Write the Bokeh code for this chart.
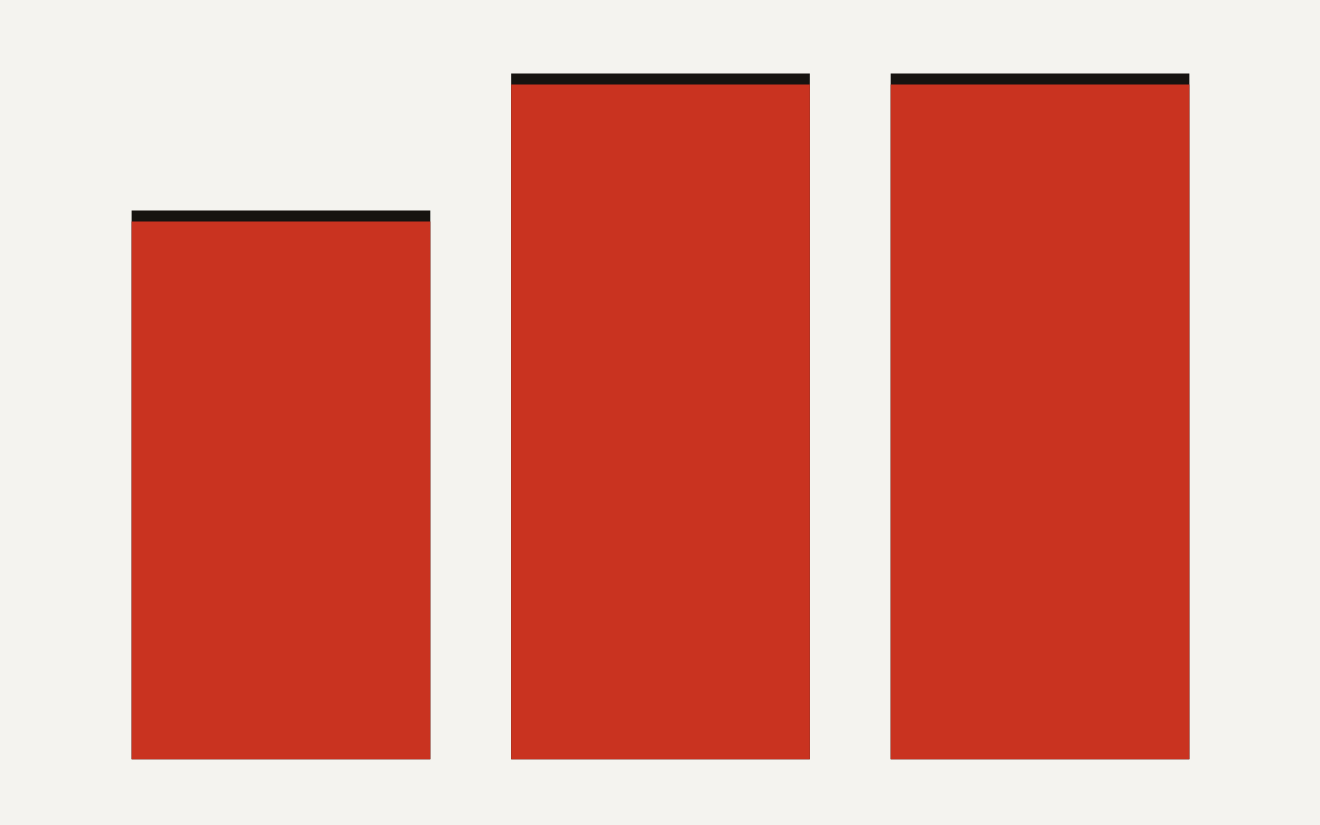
from bokeh.plotting import figure
from bokeh.models import Range1d, ColumnDataSource
from bokeh.embed import file_html
from bokeh.resources import INLINE

# Data
categories = ["A", "B", "C"]
positions = [1, 2, 3]
values = [80, 100, 100]

BG = "#f4f3ef"
RED = "#c93320"
BLACK = "#161310"
CAP = 1.6  # thickness of the dark cap, in data units

src = ColumnDataSource(dict(
    x=positions,
    top=values,
    red_top=[v - CAP for v in values],
    cat=categories,
))

p = figure(width=1320, height=825, output_backend="svg", toolbar_location=None,
           x_range=Range1d(0.261, 3.739), y_range=Range1d(-9.67, 110.64),
           min_border=0, min_border_left=0, min_border_right=0,
           min_border_top=0, min_border_bottom=0)
p.axis.visible = False
p.grid.visible = False
p.outline_line_color = None
p.background_fill_color = BG
p.border_fill_color = BG

p.vbar(x="x", top="top", bottom=0, width=0.787, source=src,
       fill_color=BLACK, line_color=None)
p.vbar(x="x", top="red_top", bottom=0, width=0.787, source=src,
       fill_color=RED, line_color=None)

html = file_html(p, INLINE)
css = f"<style>html,body{{background:{BG};margin:0;padding:0;overflow:hidden;}}</style>"
html = html.replace("</head>", css + "</head>", 1)
open("out.html", "w").write(html)
